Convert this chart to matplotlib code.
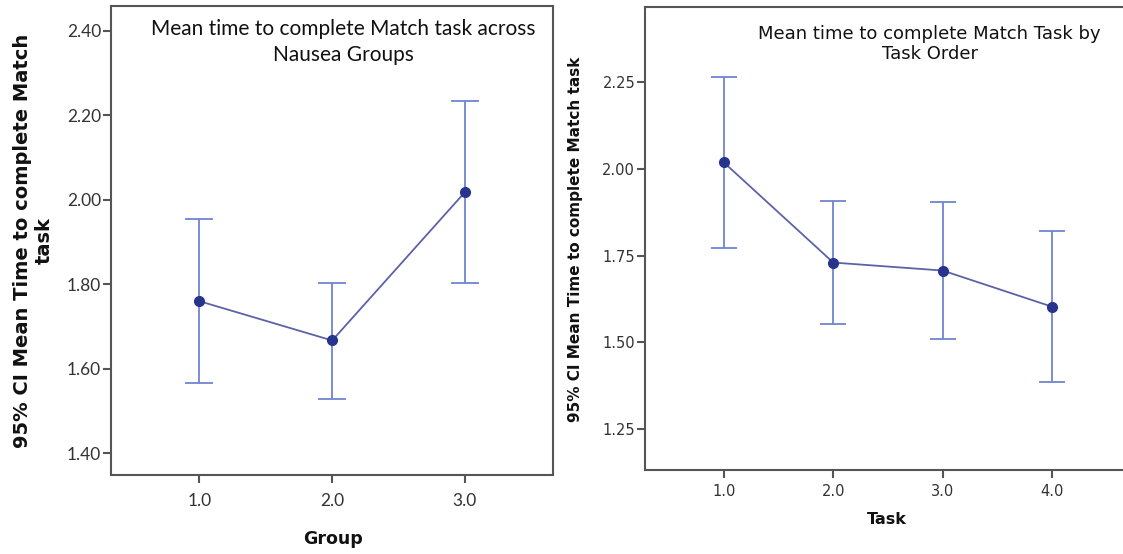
import matplotlib
matplotlib.use("Agg")
import matplotlib.pyplot as plt
import numpy as np

# Nausea group panel
group_x = [1.0, 2.0, 3.0]
group_mean = [1.760, 1.667, 2.018]
group_lower = [1.566, 1.529, 1.804]
group_upper = [1.955, 1.804, 2.233]
group_ticks = [1.40, 1.60, 1.80, 2.00, 2.20, 2.40]

# Task order panel
task_x = [1.0, 2.0, 3.0, 4.0]
task_mean = [2.018, 1.730, 1.707, 1.603]
task_lower = [1.773, 1.554, 1.510, 1.385]
task_upper = [2.264, 1.906, 1.903, 1.821]
task_ticks = [1.25, 1.50, 1.75, 2.00, 2.25]

LINE = "#5b63a6"
DOT = "#28348c"
BAR = "#7085d2"
SPINE = "#555555"
TEXT = "#333333"

NARROW = ["Lato", "DejaVu Sans"]

fig = plt.figure(figsize=(11.23, 5.54), dpi=100)
fig.patch.set_facecolor("white")


def draw_panel(ax, x, mean, lower, upper, cap_px):
    mean = np.array(mean)
    err = [mean - np.array(lower), np.array(upper) - mean]
    ax.errorbar(x, mean, yerr=err, fmt="none", ecolor=BAR, elinewidth=1.3,
                capsize=cap_px, capthick=1.3, zorder=2)
    ax.plot(x, mean, color=LINE, linewidth=1.3, zorder=3)
    ax.plot(x, mean, "o", color=DOT, markersize=7, zorder=4)
    for side in ["top", "right", "left", "bottom"]:
        ax.spines[side].set_color(SPINE)
        ax.spines[side].set_linewidth(1.5)
    ax.tick_params(direction="out", length=6, width=1.5, color=SPINE,
                   labelcolor=TEXT, pad=1)


# left panel
ax1 = fig.add_axes([0.0988, 0.1426, 0.394, 0.8458])
draw_panel(ax1, group_x, group_mean, group_lower, group_upper, 10)
ax1.set_xlim(1 / 3, 3 + 2 / 3)
ax1.set_ylim(1.3487, 2.4575)
ax1.set_xticks(group_x)
ax1.set_xticklabels([f"{v:.1f}" for v in group_x], family=NARROW, fontsize=12.5)
ax1.set_yticks(group_ticks)
ax1.set_yticklabels([f"{v:.2f}" for v in group_ticks], family=NARROW, fontsize=12.5)
ax1.tick_params(axis="x", pad=7)
ax1.text(0.526, 0.974, "Mean time to complete Match task across\nNausea Groups",
         transform=ax1.transAxes, ha="center", va="top", family=NARROW,
         fontsize=15, color="#111111", linespacing=1.4)
fig.text(0.0298, 0.565, "95% CI Mean Time to complete Match\ntask",
         rotation=90, ha="center", va="center", fontsize=14, fontweight="bold",
         color="#111111", linespacing=1.2)
fig.text(0.2965, 0.027, "Group", ha="center", va="center", fontsize=12.5,
         fontweight="bold", color="#111111")

# right panel
ax2 = fig.add_axes([0.5743, 0.1516, 0.4328, 0.8358])
draw_panel(ax2, task_x, task_mean, task_lower, task_upper, 9.5)
ax2.set_xlim(0.278, 4.722)
ax2.set_ylim(1.133, 2.4655)
ax2.set_xticks(task_x)
ax2.set_xticklabels([f"{v:.1f}" for v in task_x], fontsize=10.5)
ax2.set_yticks(task_ticks)
ax2.set_yticklabels([f"{v:.2f}" for v in task_ticks], fontsize=10.5)
ax2.tick_params(axis="x", pad=4)
ax2.text(0.586, 0.962, "Mean time to complete Match Task by\nTask Order",
         transform=ax2.transAxes, ha="center", va="top", fontsize=13,
         color="#111111", linespacing=1.15)
fig.text(0.5128, 0.568, "95% CI Mean Time to complete Match task",
         rotation=90, ha="center", va="center", fontsize=11, fontweight="bold",
         color="#111111")
fig.text(0.790, 0.063, "Task", ha="center", va="center", fontsize=11.5,
         fontweight="bold", color="#111111")

fig.savefig("out.png", dpi=100, facecolor="white")
